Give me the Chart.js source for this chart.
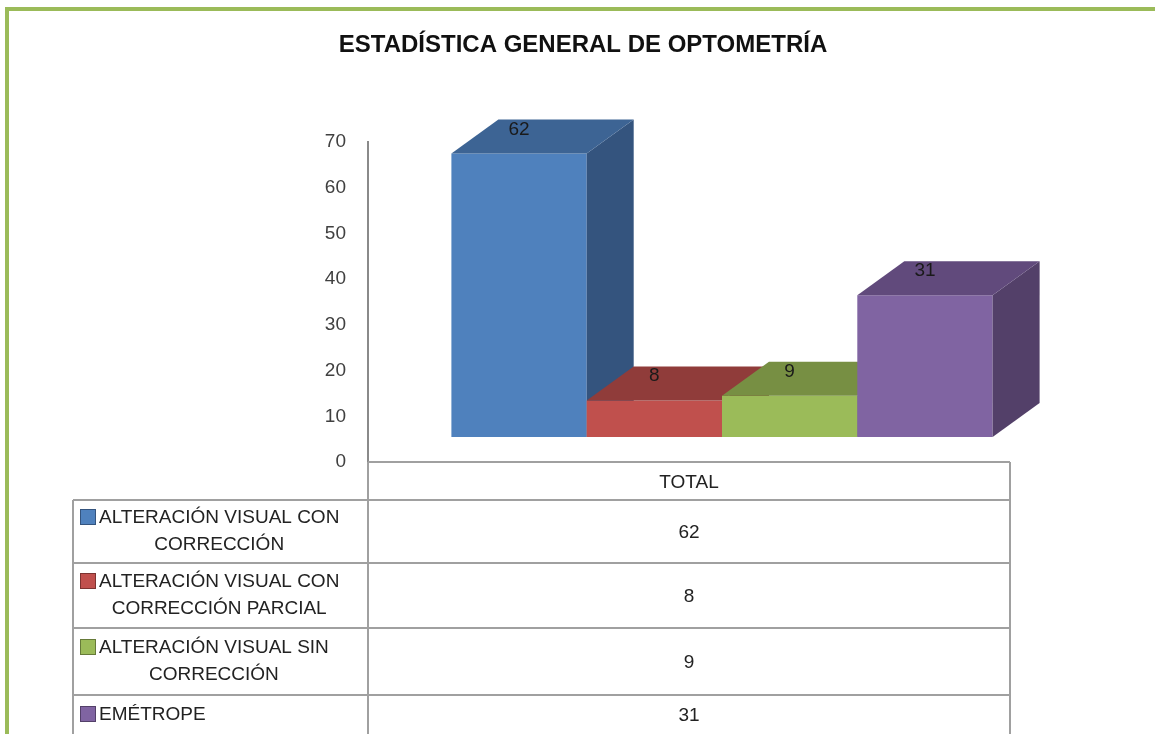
<!DOCTYPE html>
<html lang="es">
<head>
<meta charset="UTF-8">
<title>Estadística general de optometría</title>
<script src="https://cdn.jsdelivr.net/npm/chart.js"></script>
<style>
    body { margin: 0; padding: 0; background: white; overflow: hidden; }
    .frame {
        position: absolute; left: 5px; top: 7px; width: 1300px; height: 900px;
        border-top: 4px solid #9bbb59; border-left: 4px solid #9bbb59;
    }
    .wrap { position: absolute; left: 0; top: 0; width: 1155px; height: 734px; }
</style>
</head>
<body>
<div class="frame"></div>
<div class="wrap"><canvas id="chart" width="1155" height="734"></canvas></div>
<script>
    // datos
    const title = 'ESTADÍSTICA GENERAL DE OPTOMETRÍA';
    const categories = ['TOTAL'];
    const seriesNames = [
        ['ALTERACIÓN VISUAL CON', 'CORRECCIÓN'],
        ['ALTERACIÓN VISUAL CON', 'CORRECCIÓN PARCIAL'],
        ['ALTERACIÓN VISUAL SIN', 'CORRECCIÓN'],
        ['EMÉTROPE']
    ];
    const values = [62, 8, 9, 31];
    const colors = ['#4f81bd', '#c0504d', '#9bbb59', '#8064a2'];
    const topColors = ['#3d6494', '#903c3a', '#778f43', '#614a7c'];
    const sideColors = ['#34547e', '#7c3331', '#667a39', '#534069'];

    const font = '"Liberation Sans", Arial, sans-serif';
    const shift = { x: 33, y: -25 };   // desplazamiento de la cara frontal
    const depth = { x: 47, y: -34 };   // profundidad 3D
    const rowHeights = [38, 63, 65, 67, 40];

    // caras laterales y superiores; se dibujan serie por serie, de izquierda a derecha
    const threeD = {
        id: 'threeD',
        afterDatasetsDraw(chart) {
            const ctx = chart.ctx;
            ctx.save();
            // tapar las caras frontales que dibujó Chart.js sin desplazar
            chart.data.datasets.forEach((ds, i) => {
                chart.getDatasetMeta(i).data.forEach(bar => {
                    ctx.clearRect(bar.x - bar.width / 2 - 1, bar.y - 1, bar.width + 2, bar.base - bar.y + 2);
                });
            });
            ctx.translate(shift.x, shift.y);
            chart.data.datasets.forEach((ds, i) => {
                chart.getDatasetMeta(i).data.forEach(bar => {
                    const l = bar.x - bar.width / 2, r = bar.x + bar.width / 2;
                    const t = bar.y, b = bar.base;
                    bar.draw(ctx);
                    ctx.fillStyle = sideColors[i];
                    ctx.beginPath();
                    ctx.moveTo(r, t); ctx.lineTo(r + depth.x, t + depth.y);
                    ctx.lineTo(r + depth.x, b + depth.y); ctx.lineTo(r, b);
                    ctx.closePath(); ctx.fill();
                    ctx.fillStyle = topColors[i];
                    ctx.beginPath();
                    ctx.moveTo(l, t); ctx.lineTo(l + depth.x, t + depth.y);
                    ctx.lineTo(r + depth.x, t + depth.y); ctx.lineTo(r, t);
                    ctx.closePath(); ctx.fill();
                });
            });
            ctx.fillStyle = '#1a1a1a';
            ctx.font = '19px ' + font;
            ctx.textAlign = 'center';
            ctx.textBaseline = 'alphabetic';
            chart.data.datasets.forEach((ds, i) => {
                chart.getDatasetMeta(i).data.forEach((bar, j) => {
                    ctx.fillText(String(ds.data[j]), bar.x, bar.y - 19);
                });
            });
            ctx.restore();
        },
        afterDraw(chart) {
            const ctx = chart.ctx;
            const area = chart.chartArea;
            const left = 73;
            ctx.save();
            // título
            ctx.fillStyle = '#111';
            ctx.font = 'bold 24px ' + font;
            ctx.textAlign = 'center';
            ctx.textBaseline = 'middle';
            ctx.fillText(title, 583, 45);

            // tabla de datos
            ctx.strokeStyle = '#a0a0a0';
            ctx.lineWidth = 2;
            let y = area.bottom;
            const rowTops = [y];
            rowHeights.forEach(h => { y += h; rowTops.push(y); });
            ctx.beginPath();
            ctx.moveTo(area.left, area.bottom); ctx.lineTo(area.right, area.bottom);
            ctx.moveTo(area.left, area.bottom); ctx.lineTo(area.left, 734);
            ctx.moveTo(area.right, area.bottom); ctx.lineTo(area.right, 734);
            ctx.moveTo(left, rowTops[1]); ctx.lineTo(left, 734);
            for (let k = 1; k < rowTops.length - 1; k++) {
                ctx.moveTo(left, rowTops[k]); ctx.lineTo(area.right, rowTops[k]);
            }
            ctx.stroke();

            const cx = (area.left + area.right) / 2;
            ctx.fillStyle = '#222';
            ctx.font = '19px ' + font;
            ctx.fillText(categories[0], cx, (rowTops[0] + rowTops[1]) / 2 + 2);

            seriesNames.forEach((lines, i) => {
                const top = rowTops[i + 1], bottom = rowTops[i + 2];
                const mid = (top + bottom) / 2;
                ctx.font = '19px ' + font;
                ctx.fillStyle = '#222';
                ctx.textAlign = 'center';
                ctx.fillText(String(values[i]), cx, mid + 1);
                const maxW = Math.max(...lines.map(s => ctx.measureText(s).width));
                const textLeft = 99;
                const lineH = 27;
                const first = mid - (lines.length - 1) * lineH / 2;
                lines.forEach((s, k) => {
                    if (lines.length === 1) {
                        ctx.textAlign = 'left';
                        ctx.fillText(s, textLeft, first);
                    } else {
                        ctx.textAlign = 'center';
                        ctx.fillText(s, textLeft + maxW / 2, first + k * lineH);
                    }
                });
                ctx.fillStyle = chart.data.datasets[i].backgroundColor;
                ctx.strokeStyle = sideColors[i];
                ctx.lineWidth = 1;
                ctx.fillRect(80.5, first - 8.5, 15, 15);
                ctx.strokeRect(80.5, first - 8.5, 15, 15);
                ctx.strokeStyle = '#a0a0a0';
                ctx.lineWidth = 2;
            });
            ctx.restore();
        }
    };

    new Chart(document.getElementById('chart'), {
        type: 'bar',
        data: {
            labels: categories,
            datasets: values.map((v, i) => ({
                label: seriesNames[i].join(' '),
                data: [v],
                backgroundColor: colors[i],
                borderWidth: 0,
                clip: false
            }))
        },
        options: {
            responsive: false,
            animation: false,
            layout: { padding: { left: 298, right: 145, top: 142, bottom: 272 } },
            categoryPercentage: 0.843,
            barPercentage: 1,
            plugins: {
                legend: { display: false },
                title: { display: false },
                tooltip: { enabled: false }
            },
            scales: {
                x: { display: false },
                y: {
                    min: 0,
                    max: 70,
                    ticks: { stepSize: 10, padding: 22, color: '#404040', font: { size: 19, family: font } },
                    grid: { display: false, drawTicks: false },
                    border: { display: true, color: '#8a8a8a', width: 2 },
                    afterFit(scale) { scale.width = 70; }
                }
            }
        },
        plugins: [threeD]
    });
</script>
</body>
</html>
